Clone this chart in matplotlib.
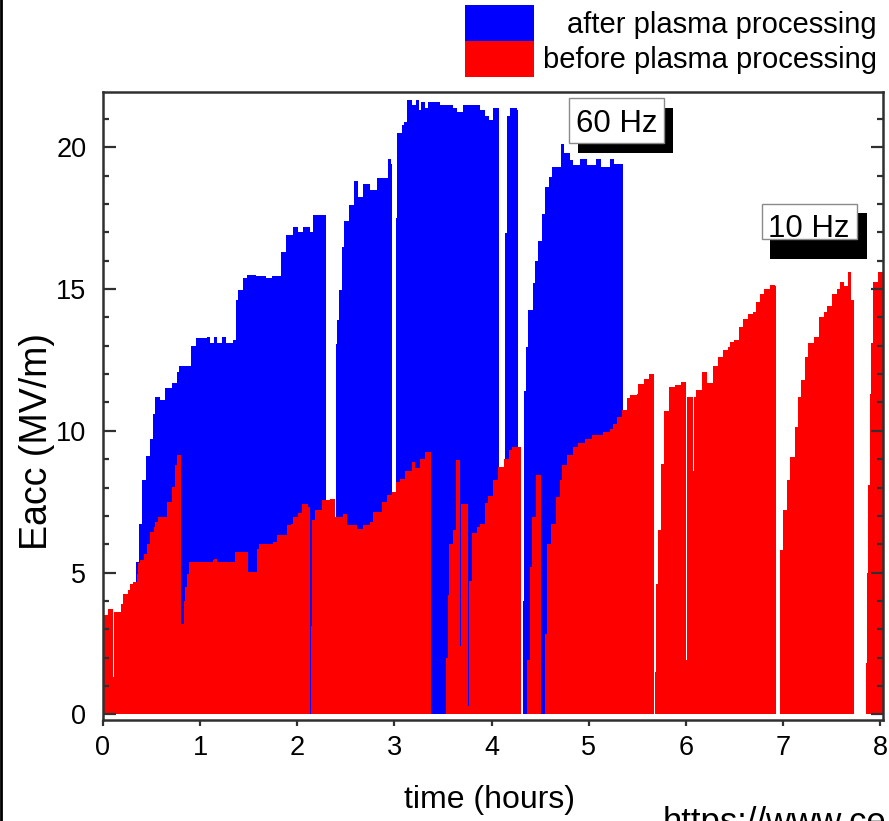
import numpy as np
import matplotlib
matplotlib.use('Agg')
import matplotlib.pyplot as plt
from matplotlib.patches import Rectangle
from matplotlib.lines import Line2D

plt.rcParams['font.family'] = ['Liberation Sans', 'DejaVu Sans']

# envelope of the pulse trains (time in hours, Eacc in MV/m)
after_t = [0.0, 0.335, 0.37, 0.40, 0.44, 0.48, 0.51, 0.54, 0.59, 0.64, 0.71, 0.76,
           0.78, 0.91, 0.96, 1.07, 1.10, 1.14, 1.17, 1.22, 1.27, 1.31, 1.34, 1.37,
           1.39, 1.44, 1.48, 1.58, 1.68, 1.74, 1.83, 1.88, 1.96, 2.01, 2.06, 2.13,
           2.16, 2.30, 2.40, 2.41, 2.43, 2.46, 2.48, 2.53, 2.58, 2.63, 2.68, 2.75,
           2.82, 2.93, 2.96, 2.98, 3.02, 3.03, 3.08, 3.10, 3.13, 3.18, 3.22, 3.25,
           3.27, 3.32, 3.35, 3.47, 3.60, 3.64, 3.71, 3.81, 3.88, 3.93, 3.97, 4.02,
           4.08, 4.14, 4.16, 4.19, 4.26, 4.27, 4.325, 4.33, 4.335, 4.35, 4.38, 4.43,
           4.45, 4.48, 4.52, 4.55, 4.59, 4.62, 4.71, 4.75, 4.81, 4.84, 4.91, 4.98,
           5.08, 5.13, 5.22, 5.26, 5.35, 8.03]
after_e = [0.0, 5.36, 6.7, 8.25, 9.1, 9.7, 10.6, 11.2, 11.1, 11.5, 11.7, 12.07,
           12.3, 13.0, 13.26, 13.3, 13.1, 13.3, 13.1, 13.3, 13.1, 13.1, 13.2, 14.6,
           14.95, 15.4, 15.5, 15.45, 15.4, 15.45, 16.3, 16.9, 17.19, 17.0, 17.2, 17.0,
           17.6, 0.0, 13.07, 13.9, 14.96, 16.5, 17.4, 17.95, 18.8, 18.25, 18.7, 18.5,
           18.9, 19.6, 19.4, 0.0, 17.5, 20.5, 20.8, 20.9, 21.66, 21.5, 21.66, 21.3,
           21.6, 21.4, 21.6, 21.5, 21.4, 21.25, 21.5, 21.5, 21.3, 21.1, 20.95, 21.37,
           0.0, 16.96, 21.1, 21.4, 21.3, 0.0, 4.0, 9.0, 11.4, 12.96, 14.25, 15.2,
           16.0, 16.7, 17.66, 18.6, 18.95, 19.3, 20.1, 19.8, 19.54, 19.36, 19.6, 19.36,
           19.6, 19.3, 19.6, 19.4, 0.0, 0.0]

before_t = [0.0, 0.055, 0.103, 0.112, 0.19, 0.21, 0.26, 0.28, 0.31, 0.35, 0.365,
            0.38, 0.42, 0.45, 0.48, 0.52, 0.535, 0.57, 0.655, 0.71, 0.74, 0.76, 0.80,
            0.835, 0.845, 0.86, 0.89, 1.13, 1.14, 1.17, 1.36, 1.497, 1.59, 1.61, 1.75,
            1.79, 1.89, 1.94, 1.96, 2.01, 2.05, 2.11, 2.13, 2.137, 2.15, 2.18, 2.25,
            2.34, 2.39, 2.47, 2.51, 2.61, 2.68, 2.75, 2.78, 2.87, 2.92, 2.98, 3.02,
            3.06, 3.11, 3.18, 3.21, 3.26, 3.32, 3.38, 3.535, 3.55, 3.565, 3.60, 3.63,
            3.68, 3.69, 3.76, 3.77, 3.80, 3.85, 3.88, 3.93, 3.96, 4.02, 4.07, 4.125,
            4.18, 4.21, 4.30, 4.37, 4.40, 4.42, 4.455, 4.51, 4.55, 4.575, 4.61, 4.66,
            4.70, 4.73, 4.78, 4.84, 4.89, 4.96, 5.03, 5.15, 5.22, 5.25, 5.29, 5.34,
            5.39, 5.43, 5.495, 5.51, 5.565, 5.62, 5.67, 5.685, 5.695, 5.71, 5.745,
            5.78, 5.83, 5.89, 5.95, 6.00, 6.01, 6.07, 6.08, 6.10, 6.17, 6.22, 6.275,
            6.33, 6.38, 6.43, 6.45, 6.50, 6.55, 6.59, 6.64, 6.69, 6.725, 6.76, 6.81,
            6.865, 6.92, 6.93, 6.97, 7.00, 7.04, 7.07, 7.12, 7.16, 7.19, 7.23, 7.26,
            7.315, 7.37, 7.42, 7.45, 7.51, 7.56, 7.59, 7.63, 7.665, 7.67, 7.705, 7.73,
            7.855, 7.865, 7.88, 7.895, 7.91, 7.93, 7.98, 8.03]
before_e = [3.5, 3.73, 1.3, 3.6, 3.9, 4.26, 4.37, 4.6, 4.67, 4.96, 5.35,
            5.43, 5.67, 6.0, 6.43, 6.6, 6.78, 6.96, 7.49, 8.02, 8.78, 9.14, 3.2,
            4.0, 4.49, 4.96, 5.37, 5.43, 5.49, 5.37, 5.72, 5.02, 5.84, 6.02, 6.08,
            6.31, 6.67, 6.73, 6.96, 7.1, 7.43, 7.3, 0.0, 3.1, 6.84, 7.2, 7.55,
            7.6, 6.96, 7.08, 6.67, 6.55, 6.67, 6.78, 7.14, 7.49, 7.72, 7.84, 8.19,
            8.31, 8.6, 8.9, 8.7, 9.0, 9.25, 0.0, 2.0, 4.2, 6.0, 6.5, 8.96,
            2.4, 7.43, 0.3, 4.7, 6.4, 6.6, 6.73, 7.44, 7.7, 8.25, 8.72, 9.0,
            9.31, 9.43, 0.0, 1.9, 5.2, 6.96, 8.43, 0.0, 2.85, 6.0, 6.73, 7.67,
            8.25, 8.78, 9.14, 9.43, 9.57, 9.72, 9.84, 9.96, 10.08, 10.25, 10.49, 10.72,
            11.14, 11.26, 11.3, 11.66, 11.84, 12.0, 0.0, 1.5, 4.6, 6.5, 8.84,
            10.7, 11.55, 11.6, 11.72, 1.9, 11.2, 8.6, 11.2, 11.43, 12.07, 11.7, 12.3,
            12.6, 12.84, 12.96, 13.13, 13.2, 13.66, 13.96, 14.13, 14.2, 14.54, 14.84, 15.0,
            15.13, 15.1, 0.0, 5.8, 7.2, 8.25, 9.08, 10.13, 11.2, 11.78, 12.6, 13.08,
            13.3, 14.0, 14.2, 14.4, 14.84, 15.0, 15.25, 15.1, 14.6, 15.6, 14.6, 0.0,
            1.8, 5.0, 8.1, 11.3, 13.1, 15.25, 15.6, 15.64]

x_ticks = [0, 1, 2, 3, 4, 5, 6, 7, 8]
y_ticks = [0, 5, 10, 15, 20]

W, H = 889, 821
fig = plt.figure(figsize=(W / 100, H / 100), dpi=100)
ax = fig.add_axes([103 / W, 1 - 720 / H, 780 / W, 628 / H])

ax.fill_between(after_t, after_e, 0, step='post', color='#0000ff', linewidth=0)
ax.fill_between(before_t, before_e, 0, step='post', color='#ff0000', linewidth=0)

ax.set_xlim(0, 8.03)
ax.set_ylim(-0.2, 21.95)
ax.set_xticks(x_ticks)
ax.set_yticks(y_ticks)
ax.set_yticks(np.arange(0, 22, 1), minor=True)

for s in ax.spines.values():
    s.set_linewidth(1.8)
    s.set_color('#303030')

ax.tick_params(axis='y', which='both', direction='in', left=True, right=True,
               colors='#303030', labelcolor='black', labelsize=19.5, width=1.6)
ax.tick_params(axis='y', which='major', length=9, pad=12)
ax.tick_params(axis='y', which='minor', length=4.5)
ax.tick_params(axis='x', which='major', direction='out', length=4, width=1.6,
               colors='#303030', labelcolor='black', labelsize=19.5, pad=7)

ax.set_xlabel('time (hours)', fontsize=23, va='center')
ax.xaxis.set_label_coords(0.496, -0.127)
ax.set_ylabel('Eacc (MV/m)', fontsize=27, va='center')
ax.yaxis.set_label_coords(-0.085, 0.443)


def fxy(x, y):
    return x / W, 1 - y / H


def frect(x0, y0, x1, y1, **kw):
    fx, fy = fxy(x0, y1)
    fig.add_artist(Rectangle((fx, fy), (x1 - x0) / W, (y1 - y0) / H,
                             transform=fig.transFigure, **kw))


# legend (drawn by hand, right aligned like the original)
frect(465, 5, 534, 41.5, facecolor='#0000ff', edgecolor='none')
frect(465, 41.5, 534, 77, facecolor='#ff0000', edgecolor='none')
fig.text(*fxy(877, 33), 'after plasma processing', ha='right', va='baseline', fontsize=21)
fig.text(*fxy(877, 68), 'before plasma processing', ha='right', va='baseline', fontsize=21)

# frequency boxes with drop shadow
frect(578, 108, 673, 153, facecolor='black', edgecolor='none')
frect(569, 98, 664, 143, facecolor='white', edgecolor='#8a8a8a', linewidth=1)
fig.text(*fxy(616.5, 131.5), '60 Hz', ha='center', va='baseline', fontsize=22.5, zorder=5)

frect(770, 213, 867, 259, facecolor='black', edgecolor='none')
frect(761.5, 204, 857, 239.5, facecolor='white', edgecolor='#8a8a8a', linewidth=1)
fig.text(*fxy(809, 236.5), '10 Hz', ha='center', va='baseline', fontsize=22.5, zorder=5)

fig.text(*fxy(663, 832), 'https://www.ce', ha='left', va='baseline', fontsize=25)

fig.add_artist(Line2D([0.0015, 0.0015], [0, 1], color='black', lw=2,
                      transform=fig.transFigure))

fig.savefig('out.png', dpi=100)
